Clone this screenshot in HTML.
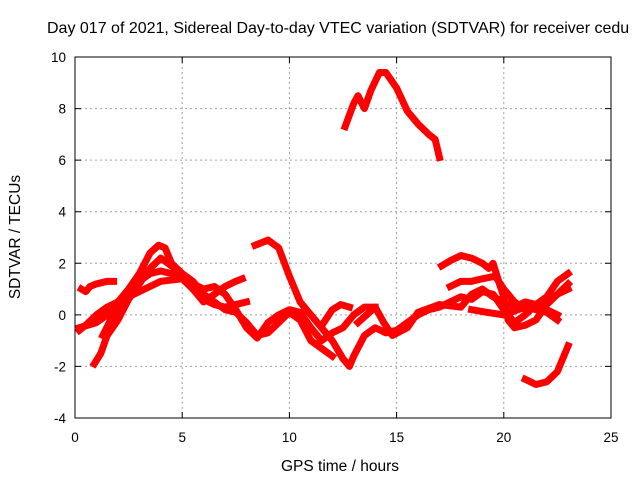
<!DOCTYPE html>
<html><head><meta charset="utf-8"><style>
body{margin:0;background:#fff}
svg{display:block;font-family:"Liberation Sans",sans-serif}
</style></head><body>
<svg id="chart" width="640" height="480">
<text x="47" y="33" font-size="16">Day 017 of 2021, Sidereal Day-to-day VTEC variation (SDTVAR) for receiver cedu</text>
<g id="grid"></g>
<g id="series"></g>
<rect x="75" y="57" width="536" height="361" fill="none" stroke="#000"/>
<g id="axes"></g>
<text x="340" y="471" font-size="15.5" text-anchor="middle">GPS time / hours</text>
<text transform="translate(20,237) rotate(-90)" font-size="15.5" text-anchor="middle">SDTVAR / TECUs</text>
</svg>
<script>
const xTicks=[0,5,10,15,20,25];
const yTicks=[-4,-2,0,2,4,6,8,10];
const segA=[[0.3,1.0],[0.5,0.9],[0.7,1.1],[1,1.2],[1.5,1.3],[1.8,1.3]];
const segB=[[0.2,-0.5],[1,-0.3],[1.5,0],[2,0.5],[2.5,0.9],[3,1.3],[3.5,1.6],[4,1.7],[4.5,1.6],[5,1.4],[5.5,1.0],[6,0.6],[6.5,0.4],[7,0.3],[7.5,0.4],[8,0.5]];
const segC=[[0.2,-0.6],[0.5,-0.4],[1,0],[1.5,0.3],[2,0.5],[2.5,1.0],[3,1.6],[3.5,2.4],[3.9,2.7],[4.2,2.6],[4.5,2.0],[5,1.6],[5.5,1.3],[6,0.8],[6.5,0.5],[7,0.2],[7.5,0.1],[8,-0.3],[8.5,-0.8],[9,-0.7],[9.5,-0.3],[10,0.1],[10.5,-0.2],[11,-1],[11.5,-1.3],[12,-1.6]];
const segD=[[0.9,-1.9],[1.2,-1.5],[1.5,-0.8],[2,-0.2],[2.5,0.6],[3,1.2],[3.5,1.8],[4,2.2],[4.5,1.9],[5,1.6],[5.5,1.0],[6,0.5],[6.5,0.8],[7,1.1],[7.5,1.3],[7.8,1.4]];
const segE=[[1.3,-0.8],[1.6,-0.3],[2,0.3],[2.5,0.7],[3,0.9],[4,1.3],[5,1.4],[6,1.0],[6.5,1.1],[7,0.8],[7.5,0.2],[8,-0.5],[8.5,-0.9],[9,-0.3],[9.5,0],[10,0.2],[10.5,0.1],[11,-0.5],[11.5,-1],[12,-0.7],[12.5,-0.5],[13,0],[13.5,0.3],[14,0.3]];
const segF=[[8.4,2.7],[9,2.9],[9.5,2.6],[10,1.5],[10.5,0.5],[11,0],[11.5,-0.5],[12,-1],[12.5,-1.7],[12.8,-2],[13,-1.6],[13.5,-0.8],[14,-0.5],[14.5,-0.7],[15,-0.6],[15.5,-0.3],[16,0],[16.5,0.2],[17,0.3],[17.5,0.5],[18,0.7],[18.5,0.6],[19,0.9],[19.5,0.8],[20,0.2],[20.5,-0.3],[21,0],[21.5,0.4],[22,0.7],[22.5,1.3],[23,1.6]];
const segG=[[11.6,-0.3],[12,0.2],[12.4,0.4],[12.8,0.3]];
const segH=[[13.2,-0.3],[13.6,0],[14,0.3],[14.4,-0.3],[14.8,-0.8],[15.5,-0.5],[16,0.1],[17,0.4],[18,0.3],[18.5,0.8],[19,1],[19.5,0.7],[20,0.5],[20.5,0.3],[21,0.5],[21.5,0.4],[22,0.2],[22.5,0.0]];
const segI=[[17.1,1.9],[17.5,2.1],[18,2.3],[18.5,2.2],[19,2.0],[19.3,1.8],[19.5,2.0],[19.8,1.2],[20,0.7],[20.2,-0.2],[20.5,-0.5],[21,-0.4],[21.5,-0.2],[22,0.4],[22.5,0.8],[23,1.2]];
const segJ=[[17.5,1.1],[18,1.3],[18.5,1.3],[19,1.4],[19.6,1.5],[20,1.0],[20.5,0.5],[21,0.2],[21.5,0.3],[22,0.5],[22.5,0.8],[23,1.0]];
const segK=[[18.5,0.2],[19.2,0.1],[20,0.0],[21,0.3],[22,0.1],[22.5,-0.2]];
const segTop=[[12.6,7.3],[13,8.2],[13.2,8.5],[13.5,8.0],[13.8,8.7],[14.2,9.4],[14.5,9.4],[15,8.8],[15.5,7.9],[16,7.4],[16.5,7.0],[16.8,6.8],[17,6.1]];
const segLow=[[21,-2.5],[21.5,-2.7],[22,-2.6],[22.5,-2.2],[23,-1.2]];
const allSegs=[segA,segB,segC,segD,segE,segF,segG,segH,segI,segJ,segK,segTop,segLow];
const NS="http://www.w3.org/2000/svg";
const X0=75,X1=611,Y0=418,Y1=57;
function sx(t){return X0+(t-0)/(25-0)*(X1-X0);}
function sy(v){return Y0-(v+4)/(14)*(Y0-Y1);}
const grid=document.getElementById('grid'),axes=document.getElementById('axes'),ser=document.getElementById('series');
xTicks.forEach(t=>{
 const x=sx(t);
 if(t>0&&t<25){const l=document.createElementNS(NS,'line');
 l.setAttribute('x1',x);l.setAttribute('x2',x);l.setAttribute('y1',Y1);l.setAttribute('y2',Y0);
 l.setAttribute('stroke','#a0a0a0');l.setAttribute('stroke-dasharray','2,3');
 
 grid.appendChild(l);}
 const tk=document.createElementNS(NS,'path');
 tk.setAttribute('d',`M${x},${Y0}v-6M${x},${Y1}v6`);tk.setAttribute('stroke','#000');
 
 axes.appendChild(tk);
 const tx=document.createElementNS(NS,'text');
 tx.setAttribute('x',x);tx.setAttribute('y',Y0+24);tx.setAttribute('font-size','13.5');tx.setAttribute('text-anchor','middle');
 tx.textContent=t;
 
 axes.appendChild(tx);
});
yTicks.forEach(v=>{
 const y=sy(v);
 if(v>-4&&v<10){const l=document.createElementNS(NS,'line');
 l.setAttribute('x1',X0);l.setAttribute('x2',X1);l.setAttribute('y1',y);l.setAttribute('y2',y);
 l.setAttribute('stroke','#a0a0a0');l.setAttribute('stroke-dasharray','2,3');
 
 grid.appendChild(l);}
 const tk=document.createElementNS(NS,'path');
 tk.setAttribute('d',`M${X0},${y}h6M${X1},${y}h-6`);tk.setAttribute('stroke','#000');
 
 axes.appendChild(tk);
 const tx=document.createElementNS(NS,'text');
 tx.setAttribute('x',X0-9);tx.setAttribute('y',y+5);tx.setAttribute('font-size','13.5');tx.setAttribute('text-anchor','end');
 tx.textContent=v;
 
 axes.appendChild(tx);
});
allSegs.forEach(seg=>{
 const p=document.createElementNS(NS,'polyline');
 p.setAttribute('points',seg.map(d=>sx(d[0])+','+sy(d[1])).join(' '));
 p.setAttribute('fill','none');p.setAttribute('stroke','#ff0000');p.setAttribute('stroke-width','7');
 p.setAttribute('stroke-linejoin','round');p.setAttribute('stroke-linecap','square');
 
 ser.appendChild(p);
});
</script>
</body></html>
